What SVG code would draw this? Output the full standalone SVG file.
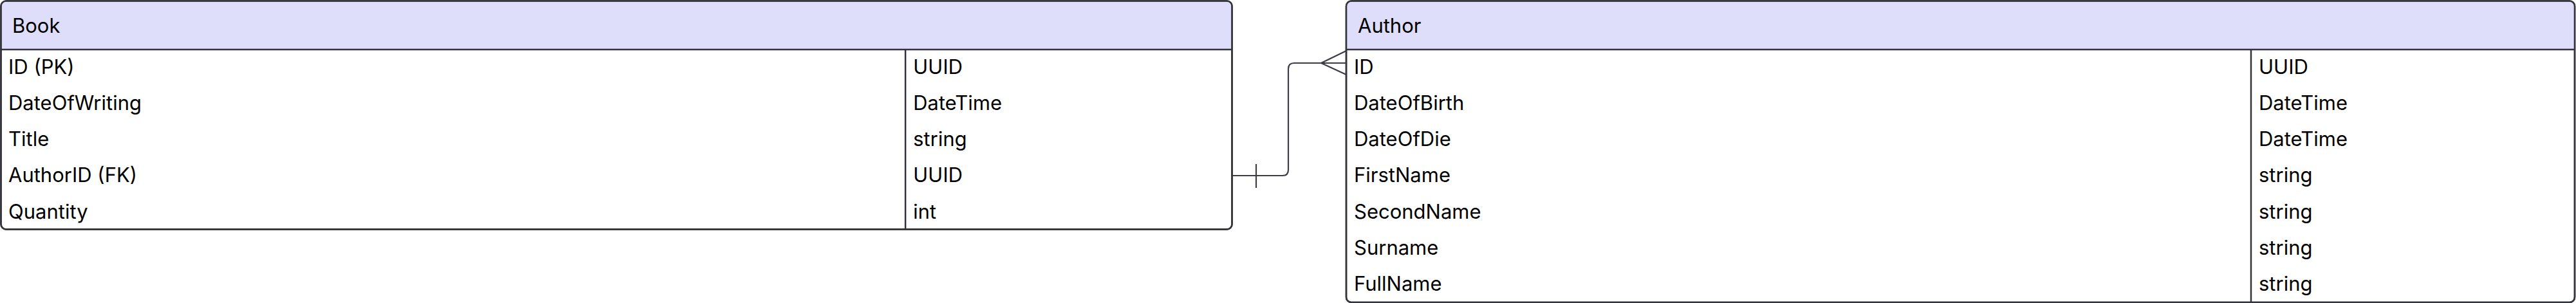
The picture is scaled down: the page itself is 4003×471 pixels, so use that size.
<svg xmlns="http://www.w3.org/2000/svg" width="4003" height="471" viewBox="0 0 4003 471">
<style>
.box{fill:#ffffff;stroke:#33333b;stroke-width:2.5}
.hdr{fill:#dedefa;stroke:none}
.sep{stroke:#33333b;stroke-width:2.5;fill:none}
.t{font-family:Inter,"Noto Sans",sans-serif;font-size:31px;fill:#000000}
.edge{fill:none;stroke:#3c3c46;stroke-width:2.2}
</style>
<rect width="4003" height="471" fill="#ffffff"/>
<g id="node-book">
<rect class="box" x="1.5" y="1.5" width="1913" height="355" rx="8"/>
<path class="hdr" d="M2.75,77 V9.5 Q2.75,2.75 9.5,2.75 H1906.5 Q1913.25,2.75 1913.25,9.5 V77 Z"/>
<line class="sep" x1="1.5" y1="77" x2="1914.5" y2="77"/>
<line class="sep" x1="1407" y1="77" x2="1407" y2="356.5"/>
<rect class="box" x="1.5" y="1.5" width="1913" height="355" rx="8" style="fill:none"/>
<text class="t" x="19" y="51">Book</text>
<text class="t" x="13" y="115">ID (PK)</text>
<text class="t" x="1419" y="115">UUID</text>
<text class="t" x="13" y="171">DateOfWriting</text>
<text class="t" x="1419" y="171">DateTime</text>
<text class="t" x="13" y="227">Title</text>
<text class="t" x="1419" y="227">string</text>
<text class="t" x="13" y="283">AuthorID (FK)</text>
<text class="t" x="1419" y="283">UUID</text>
<text class="t" x="13" y="340">Quantity</text>
<text class="t" x="1419" y="340">int</text>
</g>
<g id="node-author">
<rect class="box" x="2092" y="1.5" width="1909" height="468.5" rx="8"/>
<path class="hdr" d="M2093.25,77 V9.5 Q2093.25,2.75 2100,2.75 H3993 Q3999.75,2.75 3999.75,9.5 V77 Z"/>
<line class="sep" x1="2092" y1="77" x2="4001" y2="77"/>
<line class="sep" x1="3498" y1="77" x2="3498" y2="470"/>
<rect class="box" x="2092" y="1.5" width="1909" height="468.5" rx="8" style="fill:none"/>
<text class="t" x="2110" y="51">Author</text>
<text class="t" x="2104" y="115">ID</text>
<text class="t" x="3510" y="115">UUID</text>
<text class="t" x="2104" y="171">DateOfBirth</text>
<text class="t" x="3510" y="171">DateTime</text>
<text class="t" x="2104" y="227">DateOfDie</text>
<text class="t" x="3510" y="227">DateTime</text>
<text class="t" x="2104" y="283">FirstName</text>
<text class="t" x="3510" y="283">string</text>
<text class="t" x="2104" y="340">SecondName</text>
<text class="t" x="3510" y="340">string</text>
<text class="t" x="2104" y="396">Surname</text>
<text class="t" x="3510" y="396">string</text>
<text class="t" x="2104" y="452">FullName</text>
<text class="t" x="3510" y="452">string</text>
</g>
<g id="connectors">
<path class="edge" d="M1915,273 H1993 Q2002,273 2002,264 V107 Q2002,98 2011,98 H2092"/>
<path class="edge" d="M1952,255 V292"/>
<path class="edge" d="M2092,79 L2053,98 L2092,116"/>
</g>
</svg>
